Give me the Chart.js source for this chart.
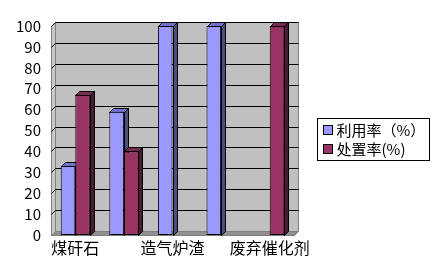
<!DOCTYPE html>
<html>
<head>
<meta charset="utf-8">
<script src="https://cdn.jsdelivr.net/npm/chart.js@4/dist/chart.umd.min.js"></script>
<style>
  html, body { margin: 0; padding: 0; background: #fff; }
  #wrap { width: 438px; height: 278px; }
</style>
</head>
<body>
<div id="wrap"><canvas id="wasteChart" width="438" height="278"></canvas></div>
<script>
// categories (labels 2 and 4 are not shown in the picture)
const categories = ["煤矸石", "", "造气炉渣", "", "废弃催化剂"];
const useRate = [33, 59, 100, 100, 0];      // 利用率（%）
const disposeRate = [67, 40, 0, 0, 100];    // 处置率(%)
const yTicks = [0, 10, 20, 30, 40, 50, 60, 70, 80, 90, 100];

const FONT = "'Noto Sans CJK SC', 'DejaVu Sans', sans-serif";
const DEPTH = 4;

// face colours: front, side, top
const faces = [
  { front: "#9999ff", side: "#4d4d80", top: "#7373cc" },
  { front: "#993366", side: "#4d1a33", top: "#7a2952" }
];

function poly(ctx, pts, fill, stroke) {
  ctx.beginPath();
  ctx.moveTo(pts[0][0], pts[0][1]);
  for (let i = 1; i < pts.length; i++) ctx.lineTo(pts[i][0], pts[i][1]);
  ctx.closePath();
  if (fill) { ctx.fillStyle = fill; ctx.fill(); }
  if (stroke) { ctx.strokeStyle = stroke; ctx.lineWidth = 1; ctx.stroke(); }
}

// walls, floor and gridlines behind the bars, plus bar side/top faces
const fakeThreeD = {
  id: "fakeThreeD",
  beforeDatasetsDraw(chart) {
    const ctx = chart.ctx;
    const { left, right, top, bottom } = chart.chartArea;
    const d = DEPTH;
    const y = chart.scales.y;
    ctx.save();
    ctx.translate(0.5, 0.5);
    // back wall
    poly(ctx, [[left + d, top - d], [right + d, top - d], [right + d, bottom - d], [left + d, bottom - d]], "#c0c0c0", "#808080");
    // left wall
    poly(ctx, [[left, top], [left + d, top - d], [left + d, bottom - d], [left, bottom]], "#c8c8c8", "#808080");
    // floor
    poly(ctx, [[left, bottom], [left + d, bottom - d], [right + d, bottom - d], [right, bottom]], "#909090", "#808080");
    // gridlines
    ctx.strokeStyle = "#000";
    ctx.lineWidth = 1;
    yTicks.forEach(v => {
      if (v === 0) return;
      const py = Math.round(y.getPixelForValue(v));
      ctx.beginPath();
      ctx.moveTo(left, py);
      ctx.lineTo(left + d, py - d);
      ctx.lineTo(right + d, py - d);
      ctx.stroke();
    });
    // bar sides and tops
    chart.data.datasets.forEach((ds, di) => {
      const meta = chart.getDatasetMeta(di);
      meta.data.forEach((bar, i) => {
        if (!ds.data[i]) return;
        const p = bar.getProps(["x", "y", "base", "width"], true);
        const x1 = Math.round(p.x - p.width / 2);
        const x2 = Math.round(p.x + p.width / 2);
        const yt = Math.round(p.y);
        const yb = Math.round(p.base);
        poly(ctx, [[x2, yt], [x2 + d, yt - d], [x2 + d, yb - d], [x2, yb]], faces[di].side, "#000");
        poly(ctx, [[x1, yt], [x1 + d, yt - d], [x2 + d, yt - d], [x2, yt]], faces[di].top, "#000");
      });
    });
    ctx.restore();
  },
  afterDraw(chart) {
    // boxed legend on the right
    const ctx = chart.ctx;
    ctx.save();
    ctx.translate(0.5, 0.5);
    ctx.strokeStyle = "#000";
    ctx.lineWidth = 1;
    ctx.strokeRect(317, 118, 112, 42);
    ctx.font = "15px " + FONT;
    ctx.textBaseline = "middle";
    ctx.fillStyle = "#000";
    chart.data.datasets.forEach((ds, i) => {
      const cy = 130 + i * 19;
      ctx.fillStyle = ds.backgroundColor;
      ctx.fillRect(323, cy - 5, 9, 9);
      ctx.strokeRect(323, cy - 5, 9, 9);
      ctx.fillStyle = "#000";
      ctx.fillText(ds.label, 336, cy);
    });
    ctx.restore();
  }
};

const ctx = document.getElementById("wasteChart").getContext("2d");

new Chart(ctx, {
  type: "bar",
  data: {
    labels: categories,
    datasets: [
      {
        label: "利用率（%）",
        data: useRate,
        backgroundColor: faces[0].front,
        borderColor: "#000",
        borderWidth: 1,
        borderSkipped: false
      },
      {
        label: "处置率(%)",
        data: disposeRate,
        backgroundColor: faces[1].front,
        borderColor: "#000",
        borderWidth: 1,
        borderSkipped: false
      }
    ]
  },
  options: {
    responsive: false,
    animation: false,
    layout: { padding: { top: 26, right: 144, left: 0, bottom: 0 } },
    categoryPercentage: 0.6,
    barPercentage: 1.0,
    plugins: {
      legend: { display: false },
      title: { display: false },
      tooltip: { enabled: false }
    },
    scales: {
      x: {
        grid: { display: false },
        border: { display: true, color: "#000" },
        ticks: {
          autoSkip: false,
          maxRotation: 0,
          color: "#000",
          padding: -5,
          font: { family: FONT, size: 16 }
        },
        afterFit(scale) { scale.height = 43; }
      },
      y: {
        min: 0,
        max: 100,
        grid: { display: false },
        border: { display: true, color: "#000" },
        ticks: {
          stepSize: 10,
          autoSkip: false,
          color: "#000",
          padding: 2,
          font: { family: FONT, size: 15 }
        },
        afterFit(scale) { scale.width = 51; }
      }
    }
  },
  plugins: [fakeThreeD]
});
</script>
</body>
</html>
